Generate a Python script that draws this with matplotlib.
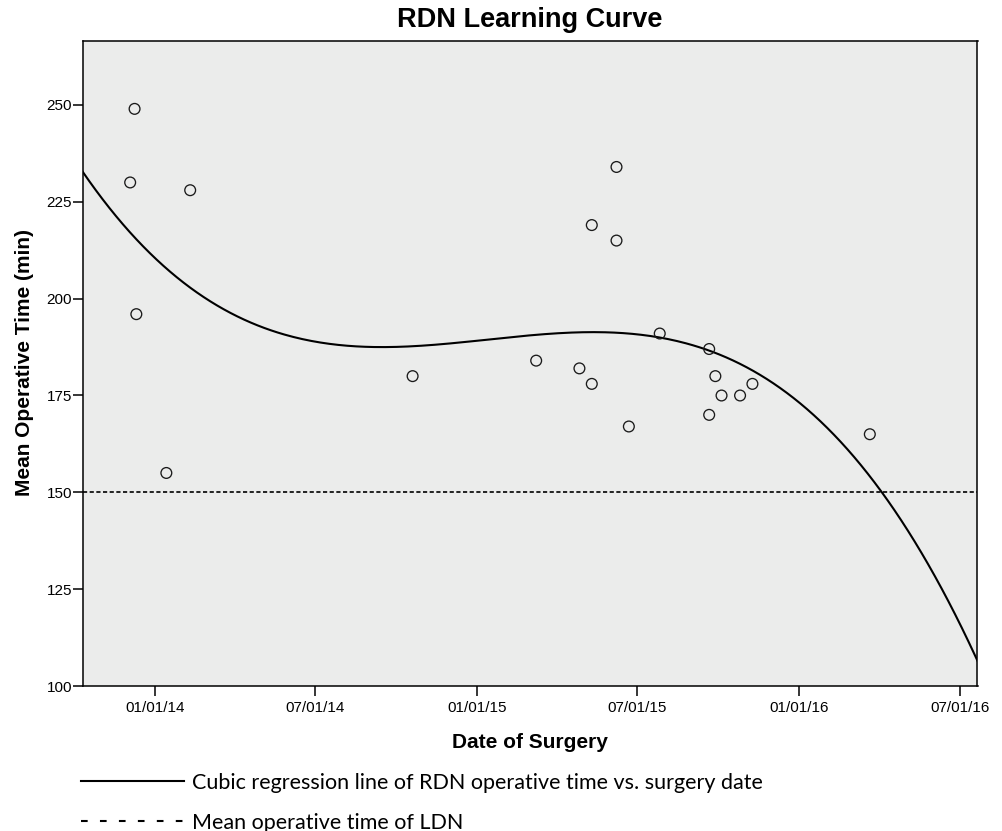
import numpy as np
import matplotlib
matplotlib.use('Agg')
import matplotlib.pyplot as plt
import matplotlib.dates as mdates
from matplotlib.lines import Line2D

# surgery dates and mean operative times (min)
surgery_dates = ['2013-12-09', '2013-12-04', '2013-12-11', '2014-02-10', '2014-01-14',
                 '2014-10-20', '2015-03-09', '2015-04-27', '2015-05-11', '2015-05-11',
                 '2015-06-08', '2015-06-08', '2015-06-22', '2015-07-27', '2015-09-21',
                 '2015-09-21', '2015-09-28', '2015-10-05', '2015-10-26', '2015-11-09',
                 '2016-03-21']
op_times = [249, 230, 196, 228, 155, 180, 184, 182, 219, 178,
            234, 215, 167, 191, 187, 170, 180, 175, 175, 178, 165]
ldn_mean = 150
tick_dates = ['2014-01-01', '2014-07-01', '2015-01-01', '2015-07-01', '2016-01-01', '2016-07-01']
x_range = ['2013-10-11', '2016-07-21']

plt.rcParams['font.family'] = ['Liberation Sans', 'DejaVu Sans']

x = mdates.date2num(np.array(surgery_dates, dtype='datetime64[D]'))
y = np.array(op_times, dtype=float)
xlo, xhi = mdates.date2num(np.array(x_range, dtype='datetime64[D]'))

# cubic regression of operative time on surgery date
x0 = x.mean()
coef = np.polyfit(x - x0, y, 3)
xs = np.linspace(xlo, xhi, 400)
ys = np.polyval(coef, xs - x0)

fig = plt.figure(figsize=(10.03, 8.31), dpi=100)
ax = fig.add_axes([82.5 / 1003, 145 / 831, 895 / 1003, 645.3 / 831])
ax.set_facecolor('#ebeceb')

ax.plot(xs, ys, color='black', lw=1.5, zorder=3)
ax.axhline(ldn_mean, color='black', lw=1.2, linestyle=(0, (2.5, 1.5)), zorder=2)
ax.scatter(x, y, s=60, facecolors='none', edgecolors='#1a1a1a', linewidths=0.95, zorder=4)

ax.set_xlim(xlo, xhi)
ax.set_ylim(100, 266.6)
ax.set_yticks([100, 125, 150, 175, 200, 225, 250])
ax.set_xticks(mdates.date2num(np.array(tick_dates, dtype='datetime64[D]')))
ax.xaxis.set_major_formatter(mdates.DateFormatter('%m/%d/%y'))

for s in ax.spines.values():
    s.set_linewidth(1.1)
ax.tick_params(axis='y', length=7, width=1.1, pad=0.5, labelsize=11, colors='black')
ax.tick_params(axis='x', length=7, width=1.1, pad=4, labelsize=11, colors='black')

fig.text(530 / 1003, 1 - 27 / 831, 'RDN Learning Curve', ha='center', va='baseline',
         fontsize=19.5, fontweight='bold')
fig.text(530 / 1003, 1 - 748 / 831, 'Date of Surgery', ha='center', va='baseline',
         fontsize=15, fontweight='bold')
fig.text(25 / 1003, 1 - 363 / 831, 'Mean Operative Time (min)', rotation=90,
         ha='center', va='center', fontsize=15, fontweight='bold')

handles = [Line2D([], [], color='black', lw=1.5),
           Line2D([], [], color='black', lw=1.5, linestyle=(0, (3.2, 5.9)))]
labels = ['Cubic regression line of RDN operative time vs. surgery date',
          'Mean operative time of LDN']
fig.legend(handles, labels, loc='upper left', bbox_to_anchor=(81 / 1003, 1 - 773 / 831),
           frameon=False, borderpad=0, borderaxespad=0, handlelength=4.8,
           handletextpad=0.36, labelspacing=0.92,
           prop={'family': 'Lato', 'size': 15.5})

fig.savefig('out.png', dpi=100)
